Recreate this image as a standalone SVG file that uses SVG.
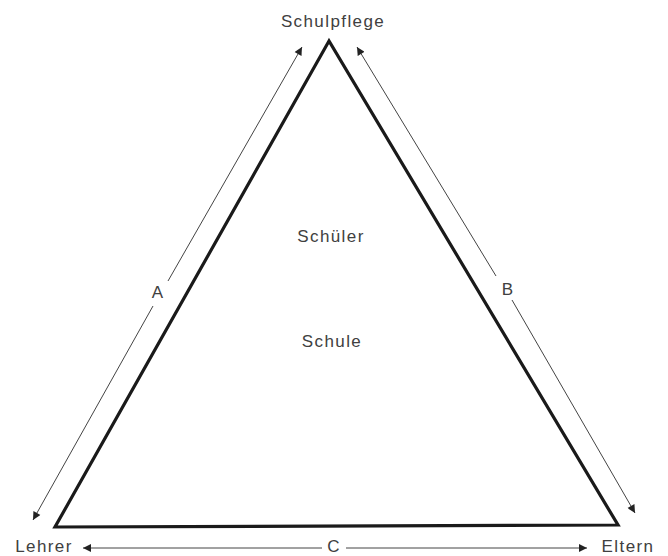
<svg xmlns="http://www.w3.org/2000/svg" width="668" height="556" viewBox="0 0 668 556">
<style>
text{font-family:"Liberation Sans",Arial,sans-serif;font-size:17px;letter-spacing:1.4px;fill:#404040;text-anchor:middle}
.tri{fill:none;stroke:#1a1a1a;stroke-width:3.2;stroke-linejoin:miter}
.ar{stroke:#444;stroke-width:1;fill:none}
</style>
<defs>
<marker id="ah" viewBox="0 0 10 10" refX="10" refY="5" markerWidth="11" markerHeight="8" markerUnits="userSpaceOnUse" orient="auto">
<path d="M0,0 L10,5 L0,10 z" fill="#222"/>
</marker>
</defs>
<g id="triangle"><polygon class="tri" points="329,41 55,527 618,525"/></g>
<g id="connectors">
<line class="ar" x1="153" y1="306" x2="33" y2="520" marker-end="url(#ah)"/>
<line class="ar" x1="168" y1="281" x2="302" y2="47" marker-end="url(#ah)"/>
<line class="ar" x1="496" y1="276" x2="357" y2="47" marker-end="url(#ah)"/>
<line class="ar" x1="512" y1="300" x2="635" y2="513" marker-end="url(#ah)"/>
<line class="ar" x1="322" y1="548" x2="83" y2="548" marker-end="url(#ah)"/>
<line class="ar" x1="346" y1="548" x2="587" y2="548" marker-end="url(#ah)"/>
</g>
<g id="schulpflege"><text x="333" y="27">Schulpflege</text></g>
<g id="lehrer"><text x="44" y="552">Lehrer</text></g>
<g id="eltern"><text x="628" y="552">Eltern</text></g>
<g id="schueler"><text x="331" y="242">Schüler</text></g>
<g id="schule"><text x="332" y="347">Schule</text></g>
<g id="labels">
<text x="158" y="298">A</text>
<text x="508" y="295">B</text>
<text x="334" y="552">C</text>
</g>
</svg>
